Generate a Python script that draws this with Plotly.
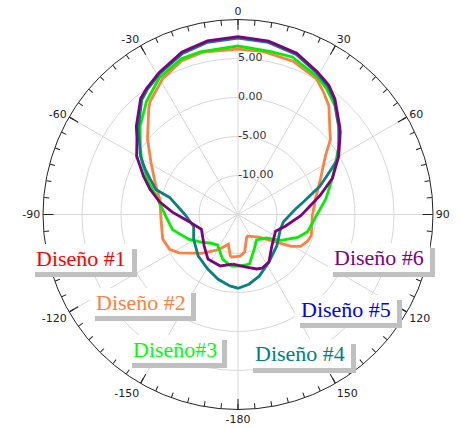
import plotly.graph_objects as go

# Radiation patterns (dB) of the antenna designs, angle in degrees
theta_2 = [-170, -162, -156, -150, -137, -123, -117, -108, -101, -90, -79, -71, -59, -50,
           -40, -38, -29, -20, -12, 0, 9, 20, 30, 35, 40, 47, 51, 56, 67, 79, 91, 106, 111,
           117, 121, 126, 137, 156, 159, 170, 177]
r_2 = [-9.45, -11.0, -10.43, -9.75, -8.17, -5.97, -5.16, -4.85, -5.05, -5.1, -4.78, -3.86,
       -1.98, 0.15, 2.79, 3.33, 4.91, 6.0, 6.3, 6.2, 6.15, 5.87, 5.1, 4.14, 3.14, 1.09, 0.25,
       -1.46, -3.53, -4.9, -5.47, -5.23, -5.46, -5.99, -7.08, -9.02, -11.03, -11.97, -11.9,
       -10.1, -9.66]

theta_3 = [-172, -161, -146, -137, -127, -117, -103, -91, -77, -70, -61, -55, -48, -39,
           -30, -20, -13, -6, 0, 11, 19, 30, 35, 42, 49, 56, 69, 80, 91, 104, 111, 121, 130,
           144, 155, 167, 178]
r_3 = [-8.31, -8.95, -10.3, -9.96, -9.12, -7.95, -6.38, -5.72, -4.21, -2.76, -0.9, 0.29,
       1.9, 3.64, 5.21, 6.24, 6.41, 6.39, 6.6, 6.3, 6.36, 5.38, 4.74, 3.65, 2.18, 0.6, -2.04,
       -3.56, -4.97, -5.81, -6.8, -8.54, -10.31, -10.97, -10.09, -8.47, -8.38]

theta_4 = [-174, -163, -151, -136, -119, -105, -90, -76, -73, -68, -64, -59, -49, -40, -36,
           -29, -19, -10, 0, 10, 20, 29, 35, 40, 49, 54, 61, 65, 71, 79, 85, 99, 109, 129,
           147, 161, 171, 180]
r_4 = [-5.76, -6.31, -7.01, -7.64, -8.49, -9.12, -8.19, -5.96, -3.98, -2.85, -1.76, -0.41,
       1.93, 4.2, 4.8, 5.68, 6.85, 7.42, 7.62, 7.4, 6.85, 5.78, 5.1, 4.18, 2.1, 0.99, -0.39,
       -2.04, -3.9, -6.43, -7.66, -9.1, -9.25, -8.6, -7.72, -6.64, -5.95, -5.55]

theta_6 = [-174, -161, -146, -133, -112, -98, -88, -81, -74, -68, -60, -53, -49, -40, -36,
           -29, -19, -10, 0, 10, 20, 29, 35, 40, 49, 51, 60, 69, 77, 91, 104, 114, 133, 147,
           156, 161, 171]
r_6 = [-8.61, -8.02, -8.11, -9.07, -9.94, -8.63, -6.58, -4.85, -3.27, -1.95, 0.01, 1.22,
       2.27, 4.41, 4.96, 5.83, 7.03, 7.59, 7.8, 7.56, 7.01, 5.94, 5.27, 4.33, 2.27, 1.87,
       -0.09, -2.04, -4.21, -6.95, -8.76, -9.73, -9.07, -7.72, -7.46, -7.61, -8.16]

# Angular tick labels (0 at top, clockwise)
angle_ticks = [0, 30, 60, 90, 120, 150, 180, 210, 240, 270, 300, 330]
angle_labels = ["0", "30", "60", "90", "120", "150", "-180", "-150", "-120", "-90", "-60", "-30"]

# Radial ring values and their labels
ring_vals = [5, 0, -5, -10]
ring_labels = ["5.00", "0.00", "-5.00", "-10.00"]

# Legend captions and colours
legend_names = ["Diseño #1", "Diseño #2", "Diseño#3", "Diseño #4", "Diseño #5", "Diseño #6"]
legend_colors = ["#ff0000", "#ff8040", "#00ff00", "#008080", "#0000ff", "#800080"]

W, H = 460, 428
CX, CY, R = 238, 214.5, 195

fig = go.Figure()

series = [
    (theta_2, r_2, "#ff8040", "Diseño #2"),
    (theta_3, r_3, "#00f000", "Diseño#3"),
    (theta_4, r_4, "#0a8080", "Diseño #4"),
    (theta_6, r_6, "#800080", "Diseño #6"),
]
for th, rr, col, name in series:
    fig.add_trace(go.Scatterpolar(
        theta=th + [th[0]], r=rr + [rr[0]], mode="lines", name=name,
        line=dict(color=col, width=2.8), subplot="polar", showlegend=False,
    ))

# ring value labels along the 0° spoke
fig.add_trace(go.Scatterpolar(
    theta=[0] * len(ring_vals), r=ring_vals, mode="text", text=ring_labels,
    textposition="middle right",
    textfont=dict(family="DejaVu Sans", size=11, color="#333333"),
    subplot="polar", showlegend=False, hoverinfo="skip",
))

# empty trace so the minor-tick overlay is drawn
fig.add_trace(go.Scatterpolar(theta=[0], r=[-15], mode="markers",
                              marker=dict(size=0.1, color="rgba(0,0,0,0)"),
                              subplot="polar2", showlegend=False, hoverinfo="skip"))

domain = dict(x=[(CX - R) / W, (CX + R) / W],
              y=[(H - CY - R) / H, (H - CY + R) / H])

fig.update_layout(
    width=W, height=H,
    margin=dict(l=0, r=0, t=0, b=0),
    paper_bgcolor="white",
    polar=dict(
        domain=domain,
        bgcolor="white",
        radialaxis=dict(range=[-15, 10], tickvals=[-10, -5, 0, 5], showticklabels=False,
                        ticks="", showline=False, gridcolor="#d8d8d8", gridwidth=1),
        angularaxis=dict(rotation=90, direction="clockwise", tickmode="array",
                         tickvals=angle_ticks, ticktext=angle_labels,
                         ticks="inside", ticklen=10, tickcolor="#222222",
                         linecolor="#222222", linewidth=1, gridcolor="#d8d8d8",
                         tickfont=dict(family="DejaVu Sans", size=11, color="#222222")),
    ),
    polar2=dict(
        domain=domain,
        bgcolor="rgba(0,0,0,0)",
        radialaxis=dict(range=[-15, 10], visible=False),
        angularaxis=dict(rotation=90, direction="clockwise", tickmode="linear",
                         tick0=0, dtick=5, ticks="inside", ticklen=5, tickcolor="#222222",
                         showticklabels=False, showgrid=False, showline=False),
    ),
)

# Legend boxes: white card with grey drop shadow (left, top, right, bottom in px)
boxes = [
    (30, 244, 132, 272),
    (90, 288, 191, 316),
    (127, 335, 222, 363),
    (248, 339, 351, 368),
    (295, 295, 397, 323),
    (328, 243, 430, 272),
]
SH = 5
for (x0, y0, x1, y1), name, col in zip(boxes, legend_names, legend_colors):
    fig.add_shape(type="rect", xref="paper", yref="paper", layer="above",
                  x0=(x0 + SH) / W, x1=(x1 + SH) / W, y0=1 - (y1 + SH) / H, y1=1 - (y0 + SH) / H,
                  fillcolor="#c0c0c0", line=dict(width=0))
    fig.add_shape(type="rect", xref="paper", yref="paper", layer="above",
                  x0=x0 / W, x1=x1 / W, y0=1 - y1 / H, y1=1 - y0 / H,
                  fillcolor="white", line=dict(width=0))
    fig.add_annotation(x=(x0 + x1) / 2 / W, y=1 - (y0 + y1) / 2 / H, xref="paper", yref="paper",
                       text=name, showarrow=False, xanchor="center", yanchor="middle",
                       font=dict(family="Liberation Serif", size=22, color=col))

fig.write_html("out.html")
